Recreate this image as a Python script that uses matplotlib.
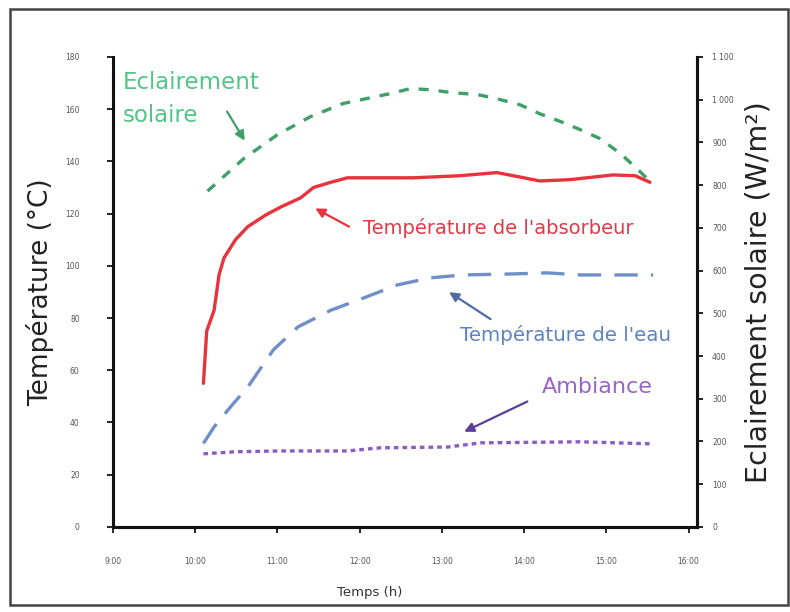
import matplotlib
matplotlib.use("Agg")
import matplotlib.pyplot as plt
from matplotlib.patches import Rectangle
from matplotlib.ticker import FuncFormatter, MultipleLocator

# Time of day in decimal hours
t_absorber = [10.10, 10.14, 10.23, 10.29, 10.35, 10.49, 10.64, 10.86, 11.04, 11.28,
              11.44, 11.65, 11.85, 12.65, 13.22, 13.67, 13.95, 14.19, 14.56, 15.08,
              15.35, 15.53]
T_absorber = [55, 75, 83, 96.5, 103, 110, 115, 119.5, 122.5, 126,
              130, 132, 133.7, 133.7, 134.5, 135.7, 134, 132.5, 133, 134.8,
              134.5, 132]

t_water = [10.10, 10.23, 10.43, 10.64, 10.95, 11.25, 11.65, 12.05, 12.46, 12.86,
           13.26, 13.87, 14.28, 14.68, 15.57]
T_water = [32, 38.3, 46, 53.6, 67.8, 76.6, 83, 87.7, 92.7, 95.4,
           96.5, 96.9, 97.3, 96.5, 96.5]

t_ambient = [10.10, 10.50, 11.04, 11.85, 12.25, 13.07, 13.47, 14.68, 15.57]
T_ambient = [28.0, 28.8, 29.1, 29.1, 30.3, 30.6, 32.2, 32.6, 31.8]

t_solar = [10.15, 10.59, 11.00, 11.40, 11.80, 12.37, 12.62, 12.86, 13.14, 13.43,
           13.67, 13.95, 14.19, 14.44, 14.68, 14.92, 15.17, 15.37, 15.53]
G_solar = [786, 862, 918, 960, 991, 1014, 1026, 1023, 1016, 1012,
           1002, 988, 967, 949, 930, 909, 874, 839, 809]

hour_ticks = [9, 10, 11, 12, 13, 14, 15, 16]
hour_labels = ["9:00", "10:00", "11:00", "12:00", "13:00", "14:00", "15:00", "16:00"]

fig = plt.figure(figsize=(7.9, 6.12), dpi=100)
ax = fig.add_axes([0.143, 0.139, 0.739, 0.768])
ax2 = ax.twinx()

c_red = "#e8323c"
c_blue = "#6f8fc8"
c_purple = "#8a5cc0"
c_green = "#3f9f68"

ax.plot(t_absorber, T_absorber, color=c_red, lw=2.4, solid_capstyle="round")
ax.plot(t_water, T_water, color=c_blue, lw=2.4, dashes=(7, 4))
ax.plot(t_ambient, T_ambient, color=c_purple, lw=2.4, dashes=(1.4, 1.2))
ax2.plot(t_solar, G_solar, color=c_green, lw=2.4, dashes=(3, 3))

ax.set_xlim(9, 16.1)
ax.set_ylim(0, 180)
ax2.set_ylim(0, 1100)
ax.set_xticks(hour_ticks)
ax.set_xticklabels(hour_labels)
ax.yaxis.set_major_locator(MultipleLocator(20))
ax2.yaxis.set_major_locator(MultipleLocator(100))
ax2.yaxis.set_major_formatter(FuncFormatter(lambda v, p: f"{int(v):,}".replace(",", " ")))

for a in (ax, ax2):
    a.spines["top"].set_visible(False)
    for s in ("left", "right", "bottom"):
        a.spines[s].set_linewidth(2.2)
        a.spines[s].set_color("#111111")
    a.tick_params(length=4, width=1.2, labelsize=5.5, labelcolor="#555555")
ax.tick_params(axis="x", pad=18)
ax.tick_params(axis="y", pad=20)
ax2.tick_params(axis="y", pad=7)
ax.spines["left"].set_bounds(0, 175)

ax.set_xlabel("Temps (h)", fontsize=9.5, color="#333333")
ax.xaxis.set_label_coords(0.44, -0.125)
ax.set_ylabel("Température (°C)", fontsize=19, color="#222222", labelpad=8)
ax2.set_ylabel("Eclairement solaire (W/m²)", fontsize=20.5, color="#222222", labelpad=8)

# Curve labels with arrows
ax.text(9.12, 174.5, "Eclairement\nsolaire", color="#52c587", fontsize=16.5,
        va="top", ha="left", linespacing=1.55)
ax.annotate("", xy=(10.62, 147), xytext=(10.37, 160),
            arrowprops=dict(arrowstyle="-|>", color=c_green, lw=1.6, mutation_scale=14))
ax.text(12.04, 114.5, "Température de l'absorbeur", color="#dd3b46", fontsize=14,
        va="center", ha="left")
ax.annotate("", xy=(11.43, 122.5), xytext=(11.90, 114.5),
            arrowprops=dict(arrowstyle="-|>", color=c_red, lw=1.6, mutation_scale=14))
ax.text(13.22, 73.5, "Température de l'eau", color="#5b82c4", fontsize=14.3,
        va="center", ha="left")
ax.annotate("", xy=(13.06, 90.5), xytext=(13.62, 79),
            arrowprops=dict(arrowstyle="-|>", color="#4f6aa8", lw=1.6, mutation_scale=14))
ax.text(14.22, 53.5, "Ambiance", color="#9b63c6", fontsize=16,
        va="center", ha="left")
ax.annotate("", xy=(13.24, 36), xytext=(14.07, 48.5),
            arrowprops=dict(arrowstyle="-|>", color="#5e3d99", lw=1.6, mutation_scale=14))

# Chart frame
fig.patches.append(Rectangle((0.013, 0.012), 0.984, 0.973, transform=fig.transFigure,
                             fill=False, edgecolor="#444444", lw=1.8))

fig.savefig("out.png", dpi=100)
